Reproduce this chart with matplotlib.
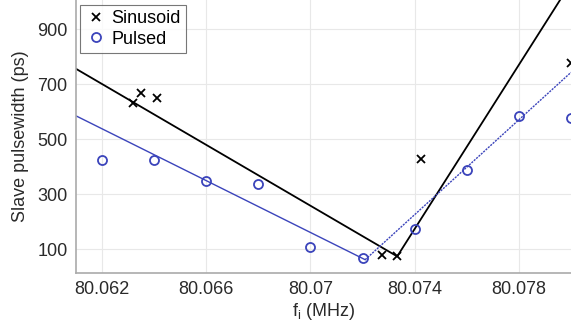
import numpy as np
import matplotlib.pyplot as plt

plt.rcParams['font.family'] = ['Liberation Sans', 'DejaVu Sans']

# Measured points (frequency in MHz, slave pulsewidth in ps)
sin_f = [80.0632, 80.0635, 80.0641, 80.07273, 80.07333, 80.07423, 80.0800]
sin_w = [632, 668, 649, 79, 74, 428, 777]

pul_f = [80.062, 80.064, 80.066, 80.068, 80.070, 80.072, 80.074, 80.076, 80.078, 80.080]
pul_w = [425, 425, 348, 337, 108, 68, 174, 388, 585, 577]

# Fitted V-shaped lines (vertices)
sin_fit_f = [80.061, 80.07333, 80.07958]
sin_fit_w = [756, 74, 1006]
pul_fit_left_f = [80.061, 80.0721]
pul_fit_left_w = [585, 62]
pul_fit_right_f = [80.0721, 80.080]
pul_fit_right_w = [62, 743]

blue = '#3b44bb'

fig = plt.figure(figsize=(5.71, 3.28), dpi=100)
ax = fig.add_axes([0.133, 0.168, 0.867, 0.832])

ax.plot(sin_fit_f, sin_fit_w, color='black', lw=1.3)
ax.plot(pul_fit_left_f, pul_fit_left_w, color=blue, lw=1.0)
ax.plot(pul_fit_right_f, pul_fit_right_w, color=blue, lw=1.0, ls=(0, (1.5, 0.8)))

ax.plot(sin_f, sin_w, 'x', color='black', ms=6, mew=1.3, label='Sinusoid')
ax.plot(pul_f, pul_w, 'o', mfc='none', mec=blue, ms=6.5, mew=1.3, label='Pulsed')

ax.set_xlim(80.061, 80.080)
ax.set_ylim(14, 1006)
ax.set_xticks([80.062, 80.066, 80.07, 80.074, 80.078])
ax.set_xticklabels(['80.062', '80.066', '80.07', '80.074', '80.078'])
ax.set_yticks([100, 300, 500, 700, 900])
ax.tick_params(labelsize=13, length=0, colors='#2a2a2a', pad=6)
ax.grid(True, color='#e8e8e8', lw=0.8)

for s in ['top', 'right']:
    ax.spines[s].set_visible(False)
for s in ['left', 'bottom']:
    ax.spines[s].set_color('#aaaaaa')
    ax.spines[s].set_linewidth(1.2)

ax.set_xlabel('f$_\\mathregular{i}$ (MHz)', fontsize=13, color='#2a2a2a', labelpad=2)
ax.set_ylabel('Slave pulsewidth (ps)', fontsize=13, color='#2a2a2a', labelpad=6)

leg = ax.legend(loc='upper left', fontsize=13, frameon=True, fancybox=False,
                borderpad=0.3, handletextpad=0.3, handlelength=1.1,
                borderaxespad=0.25, labelspacing=0.2)
leg.get_frame().set_edgecolor('#555555')
leg.get_frame().set_linewidth(0.8)

fig.savefig('out.png', dpi=100)
